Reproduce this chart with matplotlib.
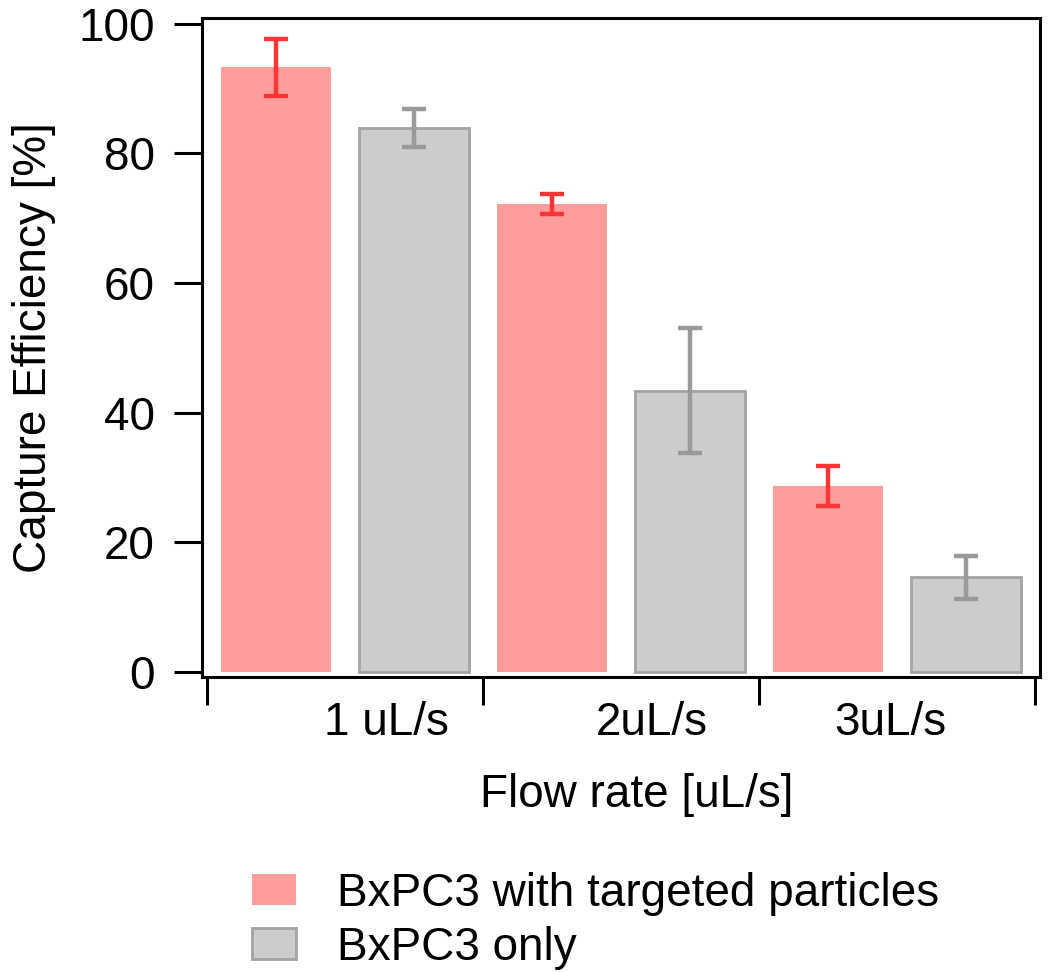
import numpy as np
import matplotlib
matplotlib.use("Agg")
import matplotlib.pyplot as plt
from matplotlib.patches import Patch

# data
groups = [1, 2, 3]
group_labels = ["1 uL/s", "2uL/s", "3uL/s"]
label_pos = [1.15, 2.11, 2.975]
targeted = [93.3, 72.2, 28.7]
targeted_err = [4.4, 1.6, 3.1]
only = [83.9, 43.4, 14.6]
only_err = [2.9, 9.6, 3.3]
legend_labels = ["BxPC3 with targeted particles", "BxPC3 only"]

red_fill = "#ff9c9c"
red_err = "#ff3535"
gray_fill = "#cccccc"
gray_edge = "#a3a3a3"
gray_err = "#9a9a9a"

plt.rcParams['font.family'] = ['Liberation Sans', 'DejaVu Sans']
fs = 33

fig = plt.figure(figsize=(10.5, 9.72), dpi=100)
ax = fig.add_axes([0.1924, 0.3035, 0.7981, 0.678])

x = np.array(groups, dtype=float)
w = 0.40
ax.bar(x - 0.25, targeted, width=w, color=red_fill, linewidth=0, zorder=2)
ax.errorbar(x - 0.25, targeted, yerr=targeted_err, fmt='none', ecolor=red_err,
            elinewidth=3.2, capsize=8.5, capthick=3.2, zorder=3)
ax.bar(x + 0.25, only, width=w, color=gray_fill, edgecolor=gray_edge, linewidth=2, zorder=2)
ax.errorbar(x + 0.25, only, yerr=only_err, fmt='none', ecolor=gray_err,
            elinewidth=3.2, capsize=8.5, capthick=3.2, zorder=3)

ax.set_ylim(-0.77, 100.9)
ax.set_xlim(0.482, 3.518)
ax.set_yticks([0, 20, 40, 60, 80, 100])
ax.tick_params(axis='y', direction='out', length=20, width=2.2, pad=14, labelsize=fs)

# group boundary ticks without labels, labels on minor ticks
ax.set_xticks([0.5, 1.5, 2.5, 3.5])
ax.set_xticklabels([])
ax.tick_params(axis='x', which='major', direction='out', length=20, width=2.2)
ax.set_xticks(label_pos, minor=True)
ax.set_xticklabels(group_labels, minor=True)
ax.tick_params(axis='x', which='minor', length=0, pad=17, labelsize=fs)

for s in ax.spines.values():
    s.set_linewidth(2.2)

ax.set_ylabel("Capture Efficiency [%]", fontsize=fs, labelpad=16)
ax.set_xlabel("Flow rate [uL/s]", fontsize=fs, labelpad=16)
ax.xaxis.set_label_coords(0.519, -0.145)

handles = [Patch(facecolor=red_fill, edgecolor='none'),
           Patch(facecolor=gray_fill, edgecolor=gray_edge, linewidth=2)]
fig.legend(handles, legend_labels, loc='upper left', bbox_to_anchor=(0.240, 0.103),
           frameon=False, fontsize=fs, handlelength=0.95, handleheight=0.65,
           handletextpad=0.9, labelspacing=0.21, borderpad=0, borderaxespad=0)

fig.savefig("out.png", dpi=100)
